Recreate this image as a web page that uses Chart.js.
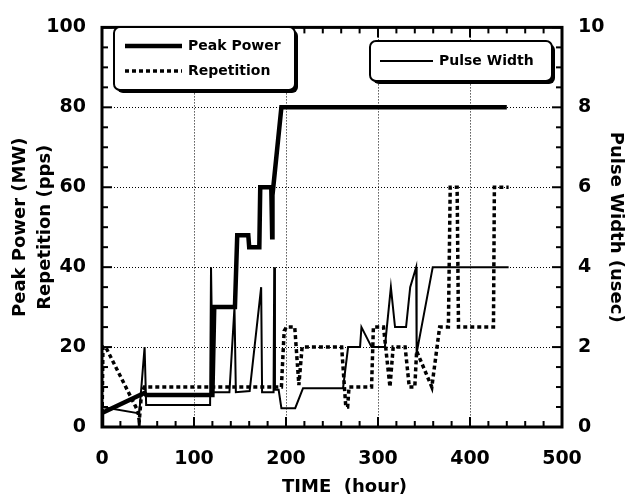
<!DOCTYPE html>
<html>
<head>
<meta charset="utf-8">
<script src="https://cdn.jsdelivr.net/npm/chart.js@4.4.0/dist/chart.umd.min.js"></script>
<style>
  html, body { margin: 0; padding: 0; background: #fff; }
  canvas { display: block; }
</style>
</head>
<body>
<canvas id="chart" width="631" height="500"></canvas>
<script>
// Peak Power (MW), left axis
const powerHours = [0, 0, 46, 48, 120, 122, 144.5, 147, 159, 160, 171, 172, 184, 185, 185.3, 195, 440];
const powerMW    = [0, 3.5, 8.5, 8, 8, 30, 30, 48, 48, 45, 45, 60, 60, 47.5, 58, 80, 80];

// Repetition (pps), left axis
const repHours = [0, 1, 4, 39, 40.5, 43, 46, 195, 198, 200.5, 209.5, 214, 217.5, 260.5, 265, 267, 268.5,
                  293, 295, 306, 313, 316.5, 329.5, 334, 340, 342, 358.5, 367, 376.5, 378.5, 386, 387.5,
                  425.5, 426.5, 442];
const repPps   = [0, 20, 20, 4, 1.5, 8.5, 10, 10, 24, 25, 25, 10.5, 20, 20, 5, 5, 10,
                  10, 25, 25, 10, 20, 20, 10, 10, 19, 10, 25, 25, 60, 60, 25,
                  25, 60, 60];

// Pulse Width (usec), right axis
const widthHours = [0, 40.5, 46.3, 48, 117.5, 118.5, 120.5, 138.5, 144, 145.5, 160.5, 173, 174, 186.5, 187.2,
                    188, 192, 195, 210, 218.5, 262, 267.5, 280.5, 282, 293, 307.5, 314, 318.5, 330.5, 335,
                    341.5, 342, 359.5, 442];
const widthUsec  = [0.5, 0.34, 2.0, 0.55, 0.55, 4.0, 0.87, 0.87, 3.0, 0.87, 0.9, 3.5, 0.87, 0.87, 4.0,
                    0.93, 0.93, 0.47, 0.47, 0.97, 0.97, 2.0, 2.0, 2.5, 2.0, 2.0, 3.5, 2.5, 2.5, 3.5,
                    4.0, 1.85, 4.0, 4.0];

const FONT = '"DejaVu Sans", Verdana, sans-serif';

const toPoints = (xs, ys) => xs.map((x, i) => ({ x: x, y: ys[i] }));

const framePlugin = {
  id: 'frame',
  afterDraw(chart) {
    const { ctx, chartArea: a, scales } = chart;
    const seg = (x1, y1, x2, y2) => {
      ctx.beginPath();
      ctx.moveTo(x1, y1);
      ctx.lineTo(x2, y2);
      ctx.stroke();
    };
    ctx.save();
    ctx.strokeStyle = '#000';
    ctx.lineWidth = 2;
    ctx.setLineDash([]);

    // inward ticks
    for (let v = 0; v <= 500; v += 20) {
      const px = scales.x.getPixelForValue(v);
      const len = v % 100 === 0 ? 10 : 6;
      seg(px, a.bottom, px, a.bottom - len);
      seg(px, a.top, px, a.top + len);
    }
    for (let v = 0; v <= 100; v += 5) {
      const py = scales.y.getPixelForValue(v);
      seg(a.left, py, a.left + (v % 20 === 0 ? 10 : 6), py);
    }
    for (let i = 0; i <= 20; i++) {
      const py = scales.y1.getPixelForValue(i / 2);
      seg(a.right, py, a.right - (i % 4 === 0 ? 10 : 6), py);
    }

    ctx.lineWidth = 3;
    ctx.strokeRect(a.left, a.top, a.right - a.left, a.bottom - a.top);

    // legend boxes
    const box = (x, y, w, h) => {
      ctx.setLineDash([]);
      ctx.fillStyle = '#000';
      ctx.beginPath();
      ctx.roundRect(x + 3, y + 3, w, h, 6);
      ctx.fill();
      ctx.fillStyle = '#fff';
      ctx.beginPath();
      ctx.roundRect(x, y, w, h, 6);
      ctx.fill();
      ctx.lineWidth = 2;
      ctx.stroke();
    };
    const entry = (ds, x1, x2, y) => {
      ctx.lineWidth = ds.borderWidth;
      ctx.setLineDash(ds.borderDash || []);
      seg(x1, y, x2, y);
      ctx.setLineDash([]);
      ctx.fillStyle = '#000';
      ctx.font = 'bold 14px ' + FONT;
      ctx.textBaseline = 'middle';
      ctx.textAlign = 'left';
      ctx.fillText(ds.label, x2 + 6, y);
    };
    const ds = chart.data.datasets;
    box(114, 27, 181, 63);
    entry(ds[0], 125, 182, 46);
    entry(ds[1], 125, 182, 71);
    box(370, 41, 182, 40);
    entry(ds[2], 380, 433, 61);
    ctx.restore();
  }
};

const tickFont = { family: FONT, size: 19, weight: 'bold' };
const titleFont = { family: FONT, size: 18, weight: 'bold' };

new Chart(document.getElementById('chart'), {
  type: 'line',
  data: {
    datasets: [
      {
        label: 'Peak Power',
        data: toPoints(powerHours, powerMW),
        yAxisID: 'y',
        borderColor: '#000',
        borderWidth: 4.5,
        borderJoinStyle: 'miter'
      },
      {
        label: 'Repetition',
        data: toPoints(repHours, repPps),
        yAxisID: 'y',
        borderColor: '#000',
        borderWidth: 3.5,
        borderDash: [4, 3],
        borderJoinStyle: 'miter'
      },
      {
        label: 'Pulse Width',
        data: toPoints(widthHours, widthUsec),
        yAxisID: 'y1',
        borderColor: '#000',
        borderWidth: 2,
        borderJoinStyle: 'miter'
      }
    ]
  },
  options: {
    responsive: false,
    animation: false,
    parsing: true,
    elements: { point: { radius: 0 }, line: { tension: 0 } },
    layout: { padding: { top: 20, left: 0, right: 0, bottom: 0 } },
    plugins: { legend: { display: false }, tooltip: { enabled: false } },
    scales: {
      x: {
        type: 'linear',
        min: 0,
        max: 500,
        afterFit: (s) => { s.height = 73; },
        ticks: { stepSize: 100, color: '#000', font: tickFont, padding: 21, maxRotation: 0 },
        grid: { color: '#000', lineWidth: 1, drawTicks: false },
        border: { display: false, dash: [1, 2] },
        title: { display: true, text: '    TIME  (hour)', color: '#000', font: titleFont, padding: { top: 0, bottom: 2 } }
      },
      y: {
        position: 'left',
        min: 0,
        max: 100,
        afterFit: (s) => { s.width = 102; },
        ticks: { stepSize: 20, color: '#000', font: tickFont, padding: 16 },
        grid: { color: '#000', lineWidth: 1, drawTicks: false },
        border: { display: false, dash: [1, 2] },
        title: {
          display: true,
          text: ['Peak Power (MW)', 'Repetition (pps)'],
          color: '#000',
          font: { family: FONT, size: 18, weight: 'bold', lineHeight: 1.4 },
          padding: { top: 8, bottom: 0 }
        }
      },
      y1: {
        position: 'right',
        min: 0,
        max: 10,
        afterFit: (s) => { s.width = 69; },
        ticks: { stepSize: 2, color: '#000', font: tickFont, padding: 16 },
        grid: { display: false, drawTicks: false },
        border: { display: false },
        title: { display: true, text: 'Pulse Width (usec)', color: '#000', font: titleFont, padding: { top: 5, bottom: 0 } }
      }
    }
  },
  plugins: [framePlugin]
});
</script>
</body>
</html>
